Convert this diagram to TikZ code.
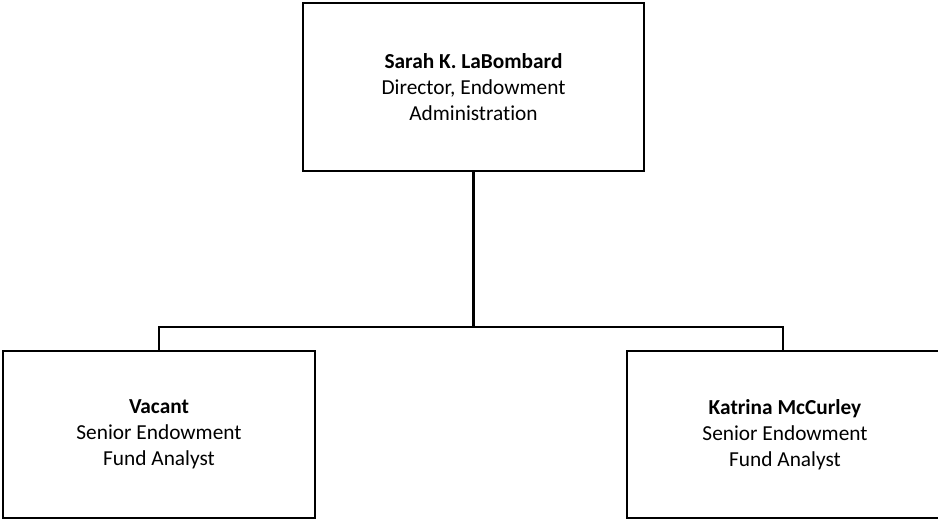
\documentclass[tikz,border=0pt]{standalone}
\usepackage{fontspec}
\setmainfont[Ligatures=NoCommon]{Carlito}
\begin{document}
\begin{tikzpicture}[x=0.75pt,y=-0.75pt,
  orgbox/.style={draw=black, line width=2.2pt, fill=white, align=center, inner sep=0pt,
    font=\fontsize{16}{19.5}\selectfont},
  conn/.style={draw=black, line width=2.2pt}]
\useasboundingbox (0,0) rectangle (938,519);
\node[orgbox, minimum width=341*0.75pt, minimum height=168*0.75pt] (top) at (473.5,87)
  {\textbf{Sarah K. LaBombard}\\Director, Endowment\\Administration};
\node[orgbox, minimum width=312*0.75pt, minimum height=167*0.75pt] (left) at (159,434.5)
  {\textbf{Vacant}\\Senior Endowment\\Fund Analyst};
\node[orgbox, minimum width=316*0.75pt, minimum height=167*0.75pt] (right) at (785,434.5)
  {\textbf{Katrina McCurley}\\Senior Endowment\\Fund Analyst};
\coordinate (j) at (473.5,327);
\coordinate (rtop) at (783,351);
\draw[conn] (top.south) -- (j);
\draw[conn] (left.north) |- (j) -| (rtop);
\end{tikzpicture}
\end{document}
